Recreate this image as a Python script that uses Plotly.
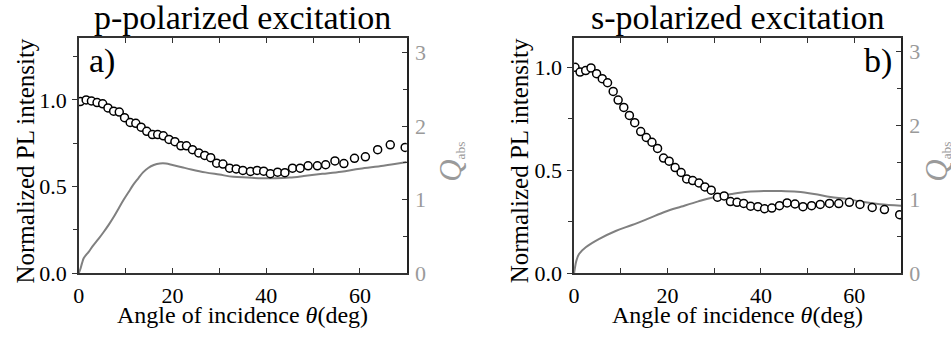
import plotly.graph_objects as go

# ---- Panel a: p-polarized excitation ----
theta_p = [0.3, 1.56, 2.69, 3.89, 5.09, 6.22, 7.43, 8.63, 9.76, 10.96, 12.16, 13.30,
           14.50, 15.70, 16.83, 18.03, 19.24, 20.51, 21.78, 22.98, 24.26, 25.60,
           26.87, 28.15, 29.42, 30.76, 32.18, 33.59, 35.01, 36.63, 38.05, 39.46,
           40.88, 42.43, 43.99, 45.61, 47.24, 48.94, 50.92, 52.69, 54.67, 56.58,
           58.84, 61.17, 63.79, 66.48, 69.66]
pl_p = [0.991, 1.000, 0.994, 0.985, 0.978, 0.954, 0.935, 0.930, 0.898, 0.870, 0.865,
        0.843, 0.819, 0.800, 0.800, 0.793, 0.772, 0.759, 0.735, 0.735, 0.713, 0.694,
        0.680, 0.667, 0.635, 0.630, 0.606, 0.602, 0.593, 0.587, 0.593, 0.589, 0.574,
        0.583, 0.580, 0.606, 0.606, 0.620, 0.620, 0.626, 0.648, 0.633, 0.663, 0.672,
        0.713, 0.741, 0.726]

qtheta_p = [0, 0.4, 0.7, 1.06, 2.1, 3, 4.24, 5.3, 6.4, 7.5, 8.5, 9.5, 10.6, 11.6, 12.7,
            13.7, 14.8, 16, 17.3, 18.6, 20, 22, 24, 27, 30, 33, 36, 39, 42, 45, 48,
            52, 56, 60, 65, 70]
qabs_p = [0, 0.07, 0.14, 0.205, 0.29, 0.37, 0.47, 0.56, 0.66, 0.77, 0.88, 0.99, 1.10,
          1.20, 1.29, 1.37, 1.43, 1.47, 1.49, 1.49, 1.47, 1.44, 1.41, 1.37, 1.34, 1.31,
          1.30, 1.29, 1.29, 1.30, 1.32, 1.35, 1.38, 1.42, 1.46, 1.51]

# ---- Panel b: s-polarized excitation ----
theta_s = [0.2, 1.28, 2.48, 3.62, 4.82, 6.03, 7.16, 8.37, 9.43, 10.64, 11.84, 12.98,
           14.26, 15.46, 16.67, 17.87, 19.15, 20.35, 21.63, 22.91, 24.11, 25.39,
           26.74, 28.01, 29.36, 30.71, 32.13, 33.48, 34.89, 36.31, 37.80, 39.36,
           40.78, 42.34, 43.97, 45.60, 47.30, 49.01, 50.85, 52.70, 54.68, 56.67,
           58.94, 61.21, 63.83, 66.45, 69.72]
pl_s = [1.000, 0.977, 0.984, 0.997, 0.969, 0.945, 0.925, 0.883, 0.841, 0.805, 0.766,
        0.731, 0.688, 0.659, 0.636, 0.606, 0.559, 0.544, 0.513, 0.489, 0.458, 0.450,
        0.438, 0.419, 0.403, 0.369, 0.375, 0.348, 0.344, 0.339, 0.325, 0.323, 0.313,
        0.316, 0.328, 0.341, 0.336, 0.323, 0.328, 0.334, 0.339, 0.338, 0.344, 0.334,
        0.319, 0.309, 0.284]

qtheta_s = [0, 0.2, 0.5, 1.06, 2.5, 5.3, 8.9, 12.4, 16, 19.5, 23, 26.6, 30.1, 33.7,
            37.2, 40.8, 44.3, 47.8, 51.4, 54.9, 58.5, 62, 65.5, 70]
qabs_s = [0, 0.08, 0.17, 0.26, 0.35, 0.46, 0.57, 0.65, 0.74, 0.83, 0.90, 0.97, 1.03,
          1.07, 1.10, 1.11, 1.11, 1.10, 1.07, 1.03, 1.00, 0.96, 0.93, 0.91]

x_ticks = [0, 20, 40, 60]
pl_ticks = [0.0, 0.5, 1.0]
q_ticks = [0, 1, 2, 3]

FONT = "Liberation Serif"
AXIS_COLOR = "#333333"
GRAY = "#808080"
LABEL_GRAY = "#9a9a9a"

fig = go.Figure()

marker_style = dict(symbol="circle", size=8, color="white", line=dict(color="black", width=1.5))

# Q_abs curves are on the base axes, PL markers on the overlaying axes (drawn on top)
fig.add_trace(go.Scatter(x=qtheta_p, y=qabs_p, mode="lines", line=dict(color=GRAY, width=2, shape="spline"),
                         xaxis="x", yaxis="y", showlegend=False))
fig.add_trace(go.Scatter(x=theta_p, y=pl_p, mode="markers", marker=marker_style,
                         xaxis="x", yaxis="y2", showlegend=False))
fig.add_trace(go.Scatter(x=qtheta_s, y=qabs_s, mode="lines", line=dict(color=GRAY, width=2, shape="spline"),
                         xaxis="x2", yaxis="y3", showlegend=False))
fig.add_trace(go.Scatter(x=theta_s, y=pl_s, mode="markers", marker=marker_style,
                         xaxis="x2", yaxis="y4", showlegend=False))

W, H = 951, 341
top_px, bot_px = 40, 284
ydom = [(H - bot_px) / H, (H - top_px) / H]
xdom_a = [73.3 / W, 403.3 / W]
xdom_b = [571.7 / W, 900.7 / W]


def xaxis_cfg(domain, anchor):
    return dict(domain=domain, anchor=anchor, range=[0, 70], tickvals=x_ticks,
                ticks="inside", ticklen=5, tickwidth=1.2, tickcolor=AXIS_COLOR,
                minor=dict(dtick=10, tick0=0, ticks="inside", ticklen=5, tickcolor=AXIS_COLOR, tickwidth=1.2),
                showline=True, linecolor=AXIS_COLOR, linewidth=1.5, mirror="ticks",
                showgrid=False, zeroline=False, ticklabelstandoff=2,
                tickfont=dict(family=FONT, size=22, color="black"))


def q_axis_cfg(anchor, rng):
    return dict(domain=ydom, anchor=anchor, side="right", range=rng, tickvals=q_ticks,
                ticks="inside", ticklen=5, tickwidth=1.2, tickcolor=AXIS_COLOR,
                minor=dict(dtick=0.5, tick0=0, ticks="inside", ticklen=4, tickcolor=AXIS_COLOR, tickwidth=1.2),
                showline=True, linecolor="#222222", linewidth=1.5,
                showgrid=False, zeroline=False, ticklabelstandoff=2,
                tickfont=dict(family=FONT, size=22, color=LABEL_GRAY))


def pl_axis_cfg(overlay, anchor, rng):
    return dict(overlaying=overlay, anchor=anchor, side="left", range=rng, tickvals=pl_ticks,
                tickformat=".1f", ticks="outside", ticklen=5, tickwidth=1.2, tickcolor=AXIS_COLOR,
                minor=dict(dtick=0.25, tick0=0, ticks="outside", ticklen=4, tickcolor=AXIS_COLOR, tickwidth=1.2),
                showline=True, linecolor=AXIS_COLOR, linewidth=1.5,
                showgrid=False, zeroline=False, ticklabelstandoff=1,
                tickfont=dict(family=FONT, size=22, color="black"))


fig.update_layout(
    width=W, height=H,
    margin=dict(l=0, r=0, t=0, b=0),
    font=dict(family=FONT, color="black"),
    paper_bgcolor="white", plot_bgcolor="white",
    xaxis=xaxis_cfg(xdom_a, "y"),
    yaxis=q_axis_cfg("x", [0, 3.19]),
    yaxis2=pl_axis_cfg("y", "x", [0, 1.355]),
    xaxis2=xaxis_cfg(xdom_b, "y3"),
    yaxis3=q_axis_cfg("x2", [0, 3.17]),
    yaxis4=pl_axis_cfg("y3", "x2", [0, 1.14]),
)

ann = []
for dom, title, tag, tag_x, tag_anchor, ytitle_x, qtitle_x in [
    (xdom_a, "p-polarized excitation", "a)", xdom_a[0] + 8 / W, "left", 20 / W, 447 / W),
    (xdom_b, "s-polarized excitation", "b)", xdom_b[1] - 7 / W, "right", 517 / W, 937 / W),
]:
    cx = (dom[0] + dom[1]) / 2
    ann.append(dict(text=title, x=cx, y=ydom[1], xref="paper", yref="paper",
                    xanchor="center", yanchor="bottom", showarrow=False,
                    font=dict(family=FONT, size=34, color="black")))
    ann.append(dict(text="Angle of incidence <i>θ</i>(deg)", x=cx, y=(H - 312) / H,
                    xref="paper", yref="paper", xanchor="center", yanchor="top",
                    showarrow=False, font=dict(family=FONT, size=24, color="black")))
    ann.append(dict(text="Normalized PL intensity", x=ytitle_x, y=(H - 167) / H, textangle=-90,
                    xref="paper", yref="paper", xanchor="center", yanchor="middle",
                    showarrow=False, font=dict(family=FONT, size=25, color="black")))
    ann.append(dict(text="<span style='font-size:31px'><i>Q</i></span><sub>abs</sub>",
                    x=qtitle_x, y=(H - 168) / H, textangle=-90,
                    xref="paper", yref="paper", xanchor="center", yanchor="middle",
                    showarrow=False, font=dict(family=FONT, size=19, color=LABEL_GRAY)))
    ann.append(dict(text=tag, x=tag_x, y=(H - 63) / H, xref="paper", yref="paper",
                    xanchor=tag_anchor, yanchor="middle", showarrow=False,
                    font=dict(family=FONT, size=34, color="black")))

fig.update_layout(annotations=ann)
fig.write_html("out.html")
